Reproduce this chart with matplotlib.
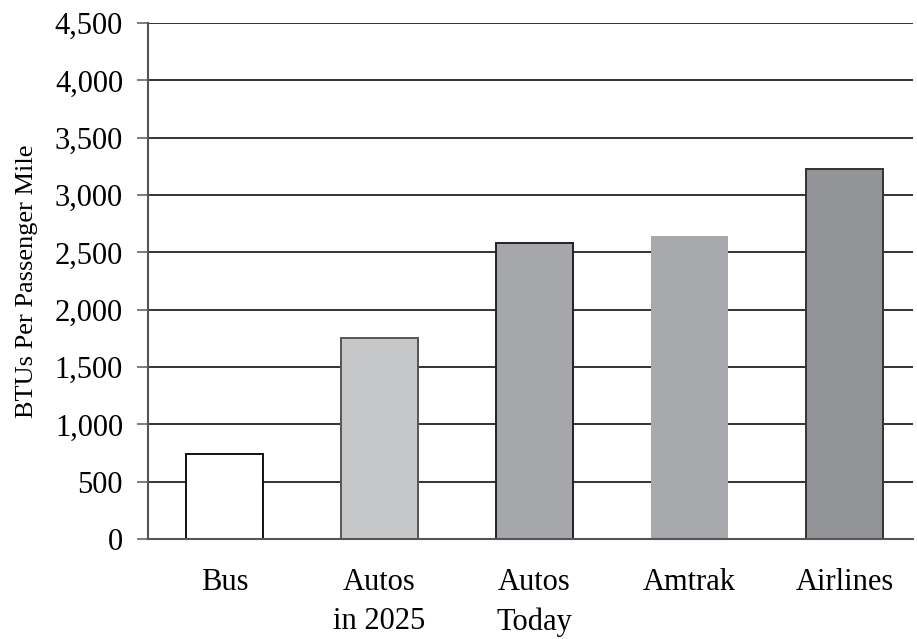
import matplotlib
matplotlib.use("Agg")
import matplotlib.pyplot as plt
from matplotlib.ticker import FuncFormatter

categories = ["Bus", "Autos\nin 2025", "Autos\nToday", "Amtrak", "Airlines"]
btus = [745, 1750, 2585, 2645, 3225]
fills = ["#ffffff", "#c6c7c9", "#a6a7aa", "#a8a9ac", "#939498"]
edges = ["#111111", "#555555", "#222222", "none", "#333333"]
yticks = list(range(0, 4501, 500))

plt.rcParams["font.family"] = ["Liberation Serif", "DejaVu Serif"]
fig = plt.figure(figsize=(9.17, 6.39), dpi=100)
ax = fig.add_axes([0.1614, 0.1565, 0.834, 0.8075])

x = list(range(len(categories)))
for i, (v, fc, ec) in enumerate(zip(btus, fills, edges)):
    ax.bar(i, v, width=0.5, color=fc, edgecolor=ec, linewidth=1.4 if ec != "none" else 0, zorder=3)

ax.set_xlim(-0.494, 4.44)
ax.set_ylim(0, 4500)
ax.set_yticks(yticks)
ax.yaxis.set_major_formatter(FuncFormatter(lambda v, p: f"{int(v):,}"))
ax.set_xticks(x)
ax.set_xticklabels(categories, fontsize=22, linespacing=1.45)
ax.tick_params(axis="x", length=0, pad=21)
ax.tick_params(axis="y", labelsize=22, length=8, width=1.2, color="#666666", pad=10, direction="out")
for y in yticks[1:]:
    ax.axhline(y, color="#111111", lw=1.2, zorder=1)
for s in ["top", "right"]:
    ax.spines[s].set_visible(False)
ax.spines["left"].set_color("#555555")
ax.spines["left"].set_linewidth(1.5)
ax.spines["bottom"].set_color("#555555")
ax.spines["bottom"].set_linewidth(1.5)
ax.spines["bottom"].set_zorder(4)
ax.set_ylabel("BTUs Per Passenger Mile", fontsize=19, labelpad=12)

fig.savefig("out.png", dpi=100, facecolor="white")
